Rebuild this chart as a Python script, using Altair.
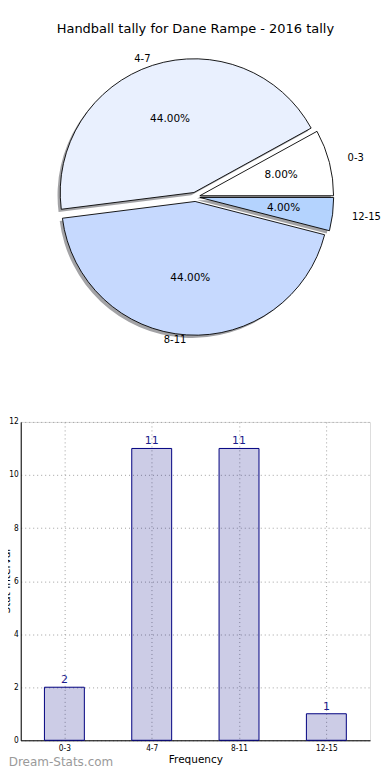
import math
import altair as alt
import pandas as pd

# ---------------- data ----------------
TITLE = "Handball tally for Dane Rampe - 2016 tally"
categories = ["0-3", "4-7", "8-11", "12-15"]
counts = [2, 11, 11, 1]
slice_colors = ["#FFFFFF", "#E9F0FE", "#C6D9FE", "#B4D3FE"]
y_ticks = [0, 2, 4, 6, 8, 10, 12]
y_title = "Stat Interval"
x_title = "Frequency"
watermark = "Dream-Stats.com"

# ---------------- style ----------------
FONT = "DejaVu Sans"
TICK_FONT = "DejaVu Sans Condensed, DejaVu Sans"
PIE_W, PIE_H = 350, 381
CX, CY = 175, 190.5
R = 134
RX, RY = 141, 128
EXPLODE = 4.6
SHADOW = 2.7
BAR_W, BAR_H = 350, 319
YT_X, YT_SIZE = -14, 10.5

pie_df = pd.DataFrame({"cat": categories, "count": counts, "idx": list(range(len(categories)))})

# full circle = total of all counts; start at 3 o'clock and run counter-clockwise
theta_scale = alt.Scale(domain=[0, sum(counts)],
                        range=[math.pi / 2, math.pi / 2 - 2 * math.pi], zero=True, nice=False)

base = (
    alt.Chart(pie_df)
    .transform_joinaggregate(total="sum(count)")
    .transform_window(cum="sum(count)", sort=[alt.SortField("idx")])
    .transform_calculate(
        start="datum.cum - datum.count",
        mid="datum.cum - datum.count / 2",
        ang="2 * PI * (datum.cum - datum.count / 2) / datum.total",
    )
    .transform_calculate(
        ex=f"{CX} + {EXPLODE} * cos(datum.ang)",
        ey=f"{CY} - {EXPLODE} * sin(datum.ang)",
        er=f"sqrt(pow({RX} * cos(datum.ang), 2) + pow({RY} * sin(datum.ang), 2))",
        pct="format(100 * datum.count / datum.total, '.2f') + '%'",
    )
    .transform_calculate(
        sx=f"datum.ex - {SHADOW}",
        sy=f"datum.ey + {SHADOW}",
        lr="1.09 * datum.er",
        pr="0.6 * datum.er",
    )
)

theta_arc = alt.Theta("start:Q", scale=theta_scale, stack=None)
theta2_arc = alt.Theta2("cum:Q")
theta_mid = alt.Theta("mid:Q", scale=theta_scale, stack=None)
ex = alt.X("ex:Q", scale=None, axis=None)
ey = alt.Y("ey:Q", scale=None, axis=None)

shadow = base.mark_arc(outerRadius=R, fill="#A3A3A6").encode(
    theta=theta_arc, theta2=theta2_arc,
    x=alt.X("sx:Q", scale=None, axis=None), y=alt.Y("sy:Q", scale=None, axis=None),
)

slices = base.mark_arc(outerRadius=R, stroke="black", strokeWidth=0.9).encode(
    theta=theta_arc, theta2=theta2_arc, x=ex, y=ey,
    color=alt.Color("cat:N", scale=alt.Scale(domain=categories, range=slice_colors), legend=None),
)

names_left = base.transform_filter("cos(datum.ang) < 0").mark_text(
    align="right", baseline="middle", font=FONT, fontSize=10, color="black"
).encode(theta=theta_mid, radius=alt.Radius("lr:Q", scale=None), x=ex, y=ey, text="cat:N")

names_right = base.transform_filter("cos(datum.ang) >= 0").mark_text(
    align="left", baseline="middle", font=FONT, fontSize=10, color="black"
).encode(theta=theta_mid, radius=alt.Radius("lr:Q", scale=None), x=ex, y=ey, text="cat:N")

pcts = base.mark_text(
    align="center", baseline="middle", font=FONT, fontSize=10.5, color="black"
).encode(theta=theta_mid, radius=alt.Radius("pr:Q", scale=None), x=ex, y=ey, text="pct:N")

title_text = alt.Chart(pd.DataFrame({"t": [TITLE]})).mark_text(
    font=FONT, fontSize=13, color="black", align="center", baseline="middle"
).encode(text="t:N", x=alt.value(CX), y=alt.value(22))

pie = alt.layer(shadow, slices, names_left, names_right, pcts, title_text).properties(
    width=PIE_W, height=PIE_H, view=alt.ViewBackground(stroke="transparent")
)

# ---------------- bar chart ----------------
bar_df = pd.DataFrame({"cat": categories, "count": counts})

grid_kw = dict(grid=True, gridDash=[1, 3], gridColor="#a0a0a0", gridWidth=1,
               domainColor="black", labelColor="black", labelFont=TICK_FONT, ticks=False)

xenc = alt.X(
    "cat:N", sort=categories, scale=alt.Scale(type="point", padding=0.5),
    axis=alt.Axis(title=x_title, labelAngle=0, labelPadding=3, titlePadding=3,
                  labelFontSize=8.3, titleFontSize=10.5, titleFont=FONT,
                  titleFontWeight="normal", titleColor="black", **grid_kw),
)
yenc = alt.Y(
    "count:Q", scale=alt.Scale(domain=[0, 12]),
    axis=alt.Axis(values=y_ticks, title=None, labelPadding=2.5, labelFontSize=8.3, **grid_kw),
)

bars = alt.Chart(bar_df).mark_bar(
    width=40, fill="navy", fillOpacity=0.2, stroke="navy", strokeWidth=1
).encode(x=xenc, y=yenc)

bar_labels = alt.Chart(bar_df).mark_text(
    baseline="bottom", dy=-2, font=FONT, fontSize=11, color="#1c1c8c"
).encode(x=xenc, y=yenc, text="count:Q")

ytitle_text = alt.Chart(pd.DataFrame({"t": [y_title]})).mark_text(
    angle=270, align="center", baseline="middle", font=FONT, fontSize=YT_SIZE, color="black"
).encode(text="t:N", x=alt.value(YT_X), y=alt.value(BAR_H / 2))

wm_text = alt.Chart(pd.DataFrame({"t": [watermark]})).mark_text(
    align="left", baseline="middle", font=FONT, fontSize=12, color="#9a9a9a"
).encode(text="t:N", x=alt.value(-12), y=alt.value(BAR_H + 22))

bar = alt.layer(bars, bar_labels, ytitle_text, wm_text).properties(width=BAR_W, height=BAR_H)

chart = (
    alt.vconcat(pie, bar, spacing=28)
    .properties(padding={"left": 12 - YT_SIZE / 2 + YT_X, "top": -3, "right": 0, "bottom": -2})
    .configure_view(stroke="black", strokeWidth=1)
    .configure(font=FONT)
)

chart.save("out.html", embed_options={"renderer": "svg", "actions": False})
